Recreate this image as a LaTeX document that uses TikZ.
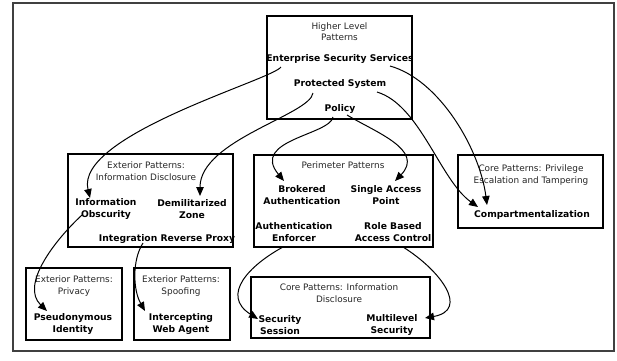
\documentclass[tikz,border=0pt]{standalone}
\usepackage{fontspec}
\setmainfont{DejaVu Sans}
\usetikzlibrary{arrows.meta}

\tikzset{
  frame/.style={draw=black!75, line width=1.3pt},
  group/.style={draw, line width=1.1pt, inner sep=0pt},
  title/.style={align=center, inner sep=0pt, font=\fontsize{8.9}{11.5}\selectfont, text=black!85},
  item/.style={align=center, inner sep=0pt, font=\fontsize{9.2}{12}\selectfont\bfseries},
  link/.style={line width=1pt, -{Triangle[length=9pt,width=7.5pt]}},
}

\begin{document}
\begin{tikzpicture}[x=1pt,y=-1pt]
\useasboundingbox (0,0) rectangle (617,360);
\draw[frame] (13,3) rectangle (614,351);

% group boxes
\node[group, minimum width=145pt, minimum height=103pt] (hl)  at (339.5,67.5) {};
\node[group, minimum width=165pt, minimum height=93pt]  (exd) at (150.5,200.5) {};
\node[group, minimum width=179pt, minimum height=92pt]  (per) at (343.5,201) {};
\node[group, minimum width=145pt, minimum height=73pt]  (cpe) at (530.5,191.5) {};
\node[group, minimum width=96pt,  minimum height=72pt]  (epr) at (74,304) {};
\node[group, minimum width=96pt,  minimum height=72pt]  (esp) at (182,304) {};
\node[group, minimum width=179pt, minimum height=61pt]  (cid) at (340.5,307.5) {};

% group titles
\node[title] (hlT)  at (339.5,31.5) {Higher Level\\Patterns};
\node[title] (exdT) at (146,171) {Exterior Patterns:\\Information Disclosure};
\node[title] (perT) at (343,165) {Perimeter Patterns};
\node[title] (cpeT) at (531,175) {Core Patterns: Privilege\\Escalation and Tampering};
\node[title] (eprT) at (74,286) {Exterior Patterns:\\Privacy};
\node[title] (espT) at (181,286) {Exterior Patterns:\\Spoofing};
\node[title] (cidT) at (339,293) {Core Patterns: Information\\Disclosure};

% patterns
\node[item] (ess)  at (340,59)  {Enterprise Security Services};
\node[item] (ps)   at (340,84)  {Protected System};
\node[item] (pol)  at (340,109) {Policy};
\node[item] (io)   at (106,209) {Information\\Obscurity};
\node[item] (dz)   at (192,209) {Demilitarized\\Zone};
\node[item] (irp)  at (167,239) {Integration Reverse Proxy};
\node[item] (ba)   at (302,195) {Brokered\\Authentication};
\node[item] (sap)  at (386,195) {Single Access\\Point};
\node[item] (ae)   at (294,232) {Authentication\\Enforcer};
\node[item] (rbac) at (393,232) {Role Based\\Access Control};
\node[item] (cmp)  at (532,215) {Compartmentalization};
\node[item] (pi)   at (73,324)  {Pseudonymous\\Identity};
\node[item] (iwa)  at (181,324) {Intercepting\\Web Agent};
\node[item] (ss)   at (280,325) {Security\\Session};
\node[item] (ms)   at (392,325) {Multilevel\\Security};

% relations
\draw[link] ([shift={(-59,8)}]ess.center) .. controls +(-9,13) and +(-15,-63) .. ([shift={(-16,-11)}]io.center);
\draw[link] ([shift={(-27,9)}]ps.center) .. controls +(-3,22) and +(0,-56) .. ([shift={(8,-13)}]dz.center);
\draw[link] ([shift={(-7,8)}]pol.center) .. controls +(-3,18) and +(-34,-41) .. ([shift={(-18,-14)}]ba.center);
\draw[link] ([shift={(7,6)}]pol.center) .. controls +(28,17) and +(30,-31) .. ([shift={(9,-14)}]sap.center);
\draw[link] ([shift={(37,8)}]ps.center) .. controls +(43,13) and +(-38,-27) .. ([shift={(-54,-8)}]cmp.center);
\draw[link] ([shift={(50,7)}]ess.center) .. controls +(50,14) and +(-7,-55) .. ([shift={(-45,-10)}]cmp.center);
\draw[link] ([shift={(-24,6)}]io.center) .. controls +(-27,25) and +(-27,-26) .. ([shift={(-26,-13)}]pi.center);
\draw[link] ([shift={(-24,4)}]irp.center) .. controls +(-11,17) and +(-12,-21) .. ([shift={(-36,-13)}]iwa.center);
\draw[link] ([shift={(-11,15)}]ae.center) .. controls +(-33,18) and +(-38,-24) .. ([shift={(-22,-6)}]ss.center);
\draw[link] ([shift={(10,15)}]rbac.center) .. controls +(37,23) and +(45,-8) .. ([shift={(33,-7)}]ms.center);
\end{tikzpicture}
\end{document}
